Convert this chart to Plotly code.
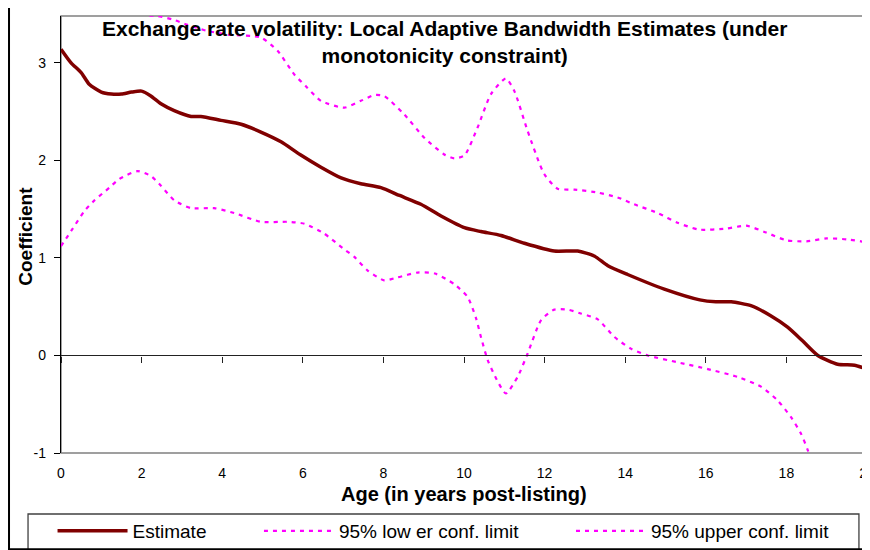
import plotly.graph_objects as go

# ---------------- data ----------------
age_est = [0.0, 0.25, 0.5, 0.7, 1.0, 1.25, 1.5, 1.75, 2.0, 2.23, 2.48, 2.81, 3.23, 3.47,
           3.97, 4.47, 4.96, 5.46, 5.93, 6.45, 6.95, 7.44, 7.94, 8.4, 8.93, 9.43, 10.01,
           10.42, 10.92, 11.5, 12.24, 12.82, 13.23, 13.57, 14.06, 14.97, 15.85, 16.25,
           16.63, 17.12, 17.6, 18.03, 18.4, 18.78, 19.27, 19.69, 20.0]
estimate = [3.14, 3.00, 2.90, 2.78, 2.70, 2.68, 2.68, 2.70, 2.71, 2.66, 2.58, 2.51, 2.45, 2.45,
            2.41, 2.37, 2.29, 2.19, 2.06, 1.93, 1.82, 1.76, 1.72, 1.64, 1.55, 1.43, 1.31,
            1.27, 1.23, 1.15, 1.07, 1.07, 1.02, 0.92, 0.83, 0.68, 0.57, 0.55,
            0.55, 0.51, 0.41, 0.29, 0.15, 0.00, -0.09, -0.10, -0.14]

age_low = [0.0, 0.29, 0.58, 0.83, 1.2, 1.45, 1.9, 2.23, 2.48, 2.81, 3.23, 3.8, 4.3, 4.96,
           5.63, 6.04, 6.53, 6.99, 7.28, 7.61, 8.02, 8.35, 8.85, 9.28, 9.76, 10.09, 10.3,
           10.42, 10.59, 10.84, 11.04, 11.33, 11.58, 11.91, 12.24, 12.57, 12.9, 13.32,
           13.73, 14.14, 14.56, 15.3, 16.05, 16.79, 17.37, 17.78, 18.11, 18.36, 18.53, 18.8]
lower_limit = [1.12, 1.30, 1.48, 1.59, 1.72, 1.81, 1.89, 1.84, 1.74, 1.59, 1.51, 1.51, 1.46, 1.37,
               1.37, 1.35, 1.25, 1.10, 1.01, 0.87, 0.77, 0.80, 0.85, 0.84, 0.73, 0.60, 0.38,
               0.19, -0.05, -0.27, -0.39, -0.22, 0.02, 0.36, 0.47, 0.47, 0.43, 0.37,
               0.19, 0.07, 0.00, -0.07, -0.14, -0.22, -0.32, -0.46, -0.63, -0.80, -0.97, -1.3]

age_up = [1.8, 2.07, 2.4, 2.8, 3.14, 3.6, 4.14, 4.96, 5.38, 5.79, 6.1, 6.45, 7.03, 7.44,
          7.78, 8.02, 8.52, 9.02, 9.51, 9.76, 10.01, 10.34, 10.67, 11.04, 11.25, 11.58,
          11.99, 12.32, 12.74, 13.32, 13.81, 14.22, 14.81, 15.3, 15.84, 16.5, 17.0, 17.5,
          18.0, 18.5, 19.0, 19.5, 20.0]
upper_limit = [3.56, 3.49, 3.48, 3.44, 3.39, 3.33, 3.29, 3.26, 3.12, 2.88, 2.75, 2.61, 2.54, 2.61,
               2.67, 2.66, 2.47, 2.23, 2.06, 2.02, 2.05, 2.34, 2.68, 2.84, 2.71, 2.30,
               1.86, 1.71, 1.70, 1.67, 1.62, 1.55, 1.46, 1.36, 1.29, 1.30, 1.33, 1.26,
               1.18, 1.17, 1.20, 1.19, 1.16]

series_names = ["Estimate", "95% low er conf. limit", "95% upper conf. limit"]
x_ticks = [0, 2, 4, 6, 8, 10, 12, 14, 16, 18, 20]
y_ticks = [-1, 0, 1, 2, 3]
y_tick_labels = ["-1", "0", "1", "2", "3"]
title_text = "Exchange rate volatility: Local Adaptive Bandwidth Estimates (under<br>monotonicity constraint)"
x_title = "Age (in years post-listing)"
y_title = "Coefficient"

# ---------------- figure ----------------
FONT = "Arial, 'Liberation Sans', sans-serif"
MAGENTA = "#FF00FF"
DARKRED = "#800000"
PAD = "\u00a0" * 9  # spacing between legend entries

fig = go.Figure()
fig.add_trace(go.Scatter(x=age_est, y=estimate, name=series_names[0] + PAD, mode="lines",
                         line=dict(color=DARKRED, width=3.5, shape="spline", smoothing=0.6)))
fig.add_trace(go.Scatter(x=age_low, y=lower_limit, name=series_names[1] + PAD, mode="lines",
                         line=dict(color=MAGENTA, width=2.2, dash="4px,5px", shape="spline", smoothing=0.6)))
fig.add_trace(go.Scatter(x=age_up, y=upper_limit, name=series_names[2], mode="lines",
                         line=dict(color=MAGENTA, width=2.2, dash="4px,5px", shape="spline", smoothing=0.6)))
# invisible helper so the zero-crossing axis is rendered
fig.add_trace(go.Scatter(x=[x_ticks[0], x_ticks[-1]], y=[0, 0], xaxis="x2", mode="lines",
                         line=dict(width=0, color="rgba(0,0,0,0)"), showlegend=False, hoverinfo="skip"))

Y_MIN, Y_MAX = -1, 3.48
fig.update_layout(
    width=870, height=550,
    margin=dict(l=53, r=11, t=8, b=105, autoexpand=False),
    paper_bgcolor="white", plot_bgcolor="white",
    font=dict(family=FONT, color="black", size=14),
    showlegend=True,
    legend=dict(orientation="h", x=-0.0105, xanchor="left", y=-0.135, yanchor="top",
                font=dict(size=19, family=FONT), itemwidth=70, borderwidth=0,
                bgcolor="rgba(0,0,0,0)", traceorder="normal"),
    xaxis=dict(range=[0, 20], tickvals=x_ticks, ticks="", showline=False, showgrid=False,
               zeroline=False, tickfont=dict(size=14), ticklabelstandoff=10,
               ticklabeloverflow="allow"),
    xaxis2=dict(range=[0, 20], overlaying="x", anchor="free",
                position=(0 - Y_MIN) / (Y_MAX - Y_MIN), tickvals=x_ticks,
                ticks="outside", ticklen=6, tickwidth=1.3, tickcolor="#222",
                showline=True, linecolor="#222", linewidth=1.3,
                showticklabels=False, showgrid=False, zeroline=False),
    yaxis=dict(range=[Y_MIN, Y_MAX], tickvals=y_ticks, ticktext=y_tick_labels,
               ticks="outside", ticklen=6,
               tickcolor="black", showline=True, linecolor="black", linewidth=1.3,
               showgrid=False, zeroline=False, tickfont=dict(size=14), ticklabelstandoff=5),
)

# frames
fig.add_shape(type="rect", xref="paper", yref="paper", x0=0, x1=1, y0=0, y1=1,
              line=dict(color="#808080", width=1.5), layer="below")
fig.add_shape(type="rect", xref="paper", yref="paper", x0=-0.0409, x1=0.990,
              y0=-0.2215, y1=-0.1396, line=dict(color="#404040", width=1.3), layer="below")
fig.add_shape(type="rect", xref="paper", yref="paper", x0=-0.0645, x1=1.03,
              y0=-0.2205, y1=1.031, line=dict(color="black", width=2), layer="below")

# titles
fig.add_annotation(text="<b>" + title_text.replace("<br>", "</b><br><b>") + "</b>",
                   xref="paper", yref="paper", x=0.4764, y=0.941,
                   xanchor="center", yanchor="middle", showarrow=False,
                   font=dict(size=21, family=FONT, color="black"))
fig.add_annotation(text="<b>" + x_title + "</b>", xref="paper", yref="paper", x=0.5, y=-0.094,
                   xanchor="center", yanchor="middle", showarrow=False,
                   font=dict(size=20, family=FONT, color="black"))
fig.add_annotation(text="<b>" + y_title + "</b>", xref="paper", yref="paper", x=-0.0434, y=0.495,
                   xanchor="center", yanchor="middle", showarrow=False, textangle=-90,
                   font=dict(size=19, family=FONT, color="black"))

fig.write_html("out.html")
